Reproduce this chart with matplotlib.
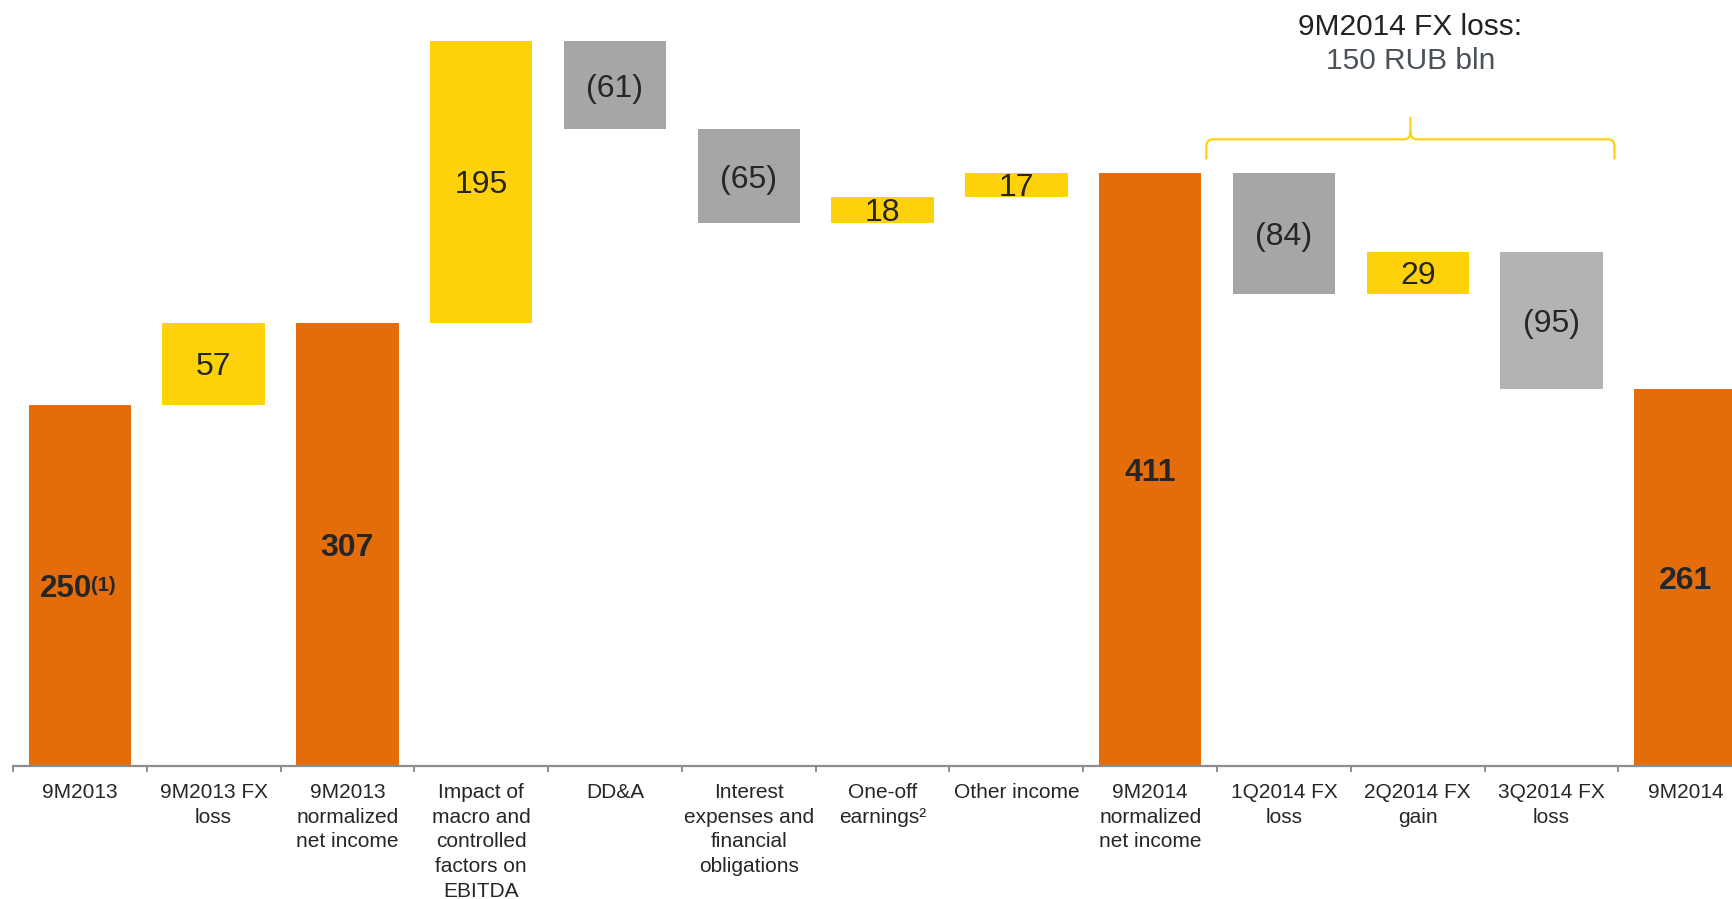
import matplotlib
matplotlib.use("Agg")
import matplotlib.pyplot as plt
from matplotlib.path import Path
from matplotlib.patches import PathPatch

plt.rcParams['font.family'] = ['Liberation Sans', 'DejaVu Sans']

# data
categories = ["9M2013", "9M2013 FX\nloss", "9M2013\nnormalized\nnet income",
              "Impact of\nmacro and\ncontrolled\nfactors on\nEBITDA", "DD&A",
              "Interest\nexpenses and\nfinancial\nobligations", "One-off\nearnings²",
              "Other income", "9M2014\nnormalized\nnet income", "1Q2014 FX\nloss",
              "2Q2014 FX\ngain", "3Q2014 FX\nloss", "9M2014"]
values = [250, 57, 307, 195, -61, -65, 18, 17, 411, -84, 29, -95, 261]
is_total = [True, False, True, False, False, False, False, False, True, False, False, False, True]
value_labels = ["250", "57", "307", "195", "(61)", "(65)", "18", "17", "411", "(84)", "29", "(95)", "261"]

ORANGE = "#E36C0B"
YELLOW = "#FED20A"
GREY = "#A6A6A6"
GREY_LIGHT = "#B3B3B3"
TXT = "#262626"

fig = plt.figure(figsize=(17.33, 8.99), dpi=100)
ax = fig.add_axes([0, 1 - 766 / 899, 1, 766 / 899])

# waterfall bottoms/heights
bottoms, heights, colors = [], [], []
running = 0
for i, v in enumerate(values):
    if is_total[i]:
        bottoms.append(0)
        heights.append(v)
        colors.append(ORANGE)
        running = v
    else:
        if v >= 0:
            bottoms.append(running)
            colors.append(YELLOW)
        else:
            bottoms.append(running + v)
            colors.append(GREY_LIGHT if i == 11 else GREY)
        heights.append(abs(v))
        running += v

x = list(range(len(categories)))
ax.bar(x, heights, bottom=bottoms, width=0.765, color=colors, linewidth=0)

half_cap = 7.9  # half the digit height, in data units
for i in x:
    yb = bottoms[i] + heights[i] / 2 - half_cap
    if is_total[i]:
        if i == 0:
            ax.text(i + 0.09, yb, value_labels[i], ha='right', va='baseline',
                    fontsize=22.5, fontweight='bold', color=TXT)
            ax.text(i + 0.085, yb + 4.4, "(1)", ha='left', va='baseline',
                    fontsize=14.5, fontweight='bold', color=TXT)
        else:
            ax.text(i, yb, value_labels[i], ha='center', va='baseline',
                    fontsize=23, fontweight='bold', color=TXT)
    else:
        ax.text(i, yb, value_labels[i], ha='center', va='baseline',
                fontsize=23, color=TXT)

step = 133.8
ax.set_xlim(-0.5 - 12.9 / step, (1733 - 12.9) / step - 0.5)
ax.set_ylim(0, 766 / 1.444)

for s in ['top', 'left', 'right']:
    ax.spines[s].set_visible(False)
ax.spines['bottom'].set_color("#8C8C8C")
ax.spines['bottom'].set_linewidth(1.6)
ax.spines['bottom'].set_bounds(-0.5, 13)
ax.set_yticks([])
ax.set_xticks(x)
ax.set_xticklabels(categories, fontsize=15, color=TXT, linespacing=1.39,
                   multialignment='center')
ax.tick_params(axis='x', which='major', length=0, pad=12)
ax.set_xticks([i - 0.5 for i in x], minor=True)
ax.tick_params(axis='x', which='minor', length=4, width=1.4, color="#8C8C8C", direction='out')

# brace over FX quarters
xl, xr = 9 - 0.58, 11 + 0.47
xm = (xl + xr) / 2
yh, ytip, yend = 434, 449.5, 420
dx, dy = 0.05, 5
verts = [(xl, yend), (xl, yh - dy), (xl, yh), (xl + dx, yh),
         (xm - dx, yh), (xm, yh), (xm, yh + dy), (xm, ytip),
         (xm, yh + dy), (xm, yh), (xm + dx, yh),
         (xr - dx, yh), (xr, yh), (xr, yh - dy), (xr, yend)]
codes = [Path.MOVETO, Path.LINETO, Path.CURVE3, Path.CURVE3,
         Path.LINETO, Path.CURVE3, Path.CURVE3, Path.LINETO,
         Path.MOVETO, Path.CURVE3, Path.CURVE3,
         Path.LINETO, Path.CURVE3, Path.CURVE3, Path.LINETO]
ax.add_patch(PathPatch(Path(verts, codes), facecolor='none', edgecolor=YELLOW,
                       linewidth=1.6, clip_on=False))

ax.text(xm, 512, "9M2014 FX loss:", ha='center', va='center', fontsize=21.5, color="#222222")
ax.text(xm, 488, "150 RUB bln", ha='center', va='center', fontsize=21.5, color="#4A5157")

fig.savefig("out.png", dpi=100)
